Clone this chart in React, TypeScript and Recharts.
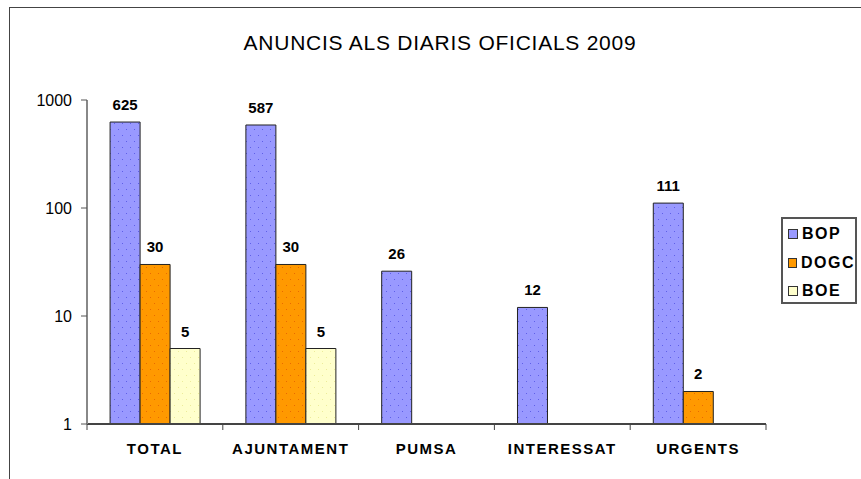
import React from 'react';
import { BarChart, Bar, XAxis, YAxis, Legend, LabelList } from 'recharts';

const title = 'ANUNCIS ALS DIARIS OFICIALS 2009';
const categories = ['TOTAL', 'AJUNTAMENT', 'PUMSA', 'INTERESSAT', 'URGENTS'];
const seriesNames = ['BOP', 'DOGC', 'BOE'];
const bopValues = [625, 587, 26, 12, 111];
const dogcValues = [30, 30, null, null, 2];
const boeValues = [5, 5, null, null, null];
const yTicks = [1, 10, 100, 1000];

const seriesValues: Record<string, (number | null)[]> = {
  BOP: bopValues,
  DOGC: dogcValues,
  BOE: boeValues,
};

const colors: Record<string, string> = { BOP: '#9999ff', DOGC: '#ff9900', BOE: '#ffffcc' };
const dotColors: Record<string, string> = { BOP: '#5f5fe8', DOGC: '#e86a00', BOE: '#ecec9a' };

const data = categories.map((name, i) => {
  const row: Record<string, any> = { name };
  seriesNames.forEach((s) => {
    row[s] = seriesValues[s][i];
  });
  return row;
});

const FONT = '"Liberation Sans", Arial, sans-serif';
const PLOT_LEFT = 87;
const PLOT_RIGHT = 766;
const BAND = (PLOT_RIGHT - PLOT_LEFT) / categories.length;

function CatTick(props: any) {
  const { x, y, payload, index } = props;
  return (
    <g>
      <line x1={x - BAND / 2} y1={y} x2={x - BAND / 2} y2={y + 6} stroke="#444" strokeWidth={1} />
      {index === categories.length - 1 && (
        <line x1={x + BAND / 2} y1={y} x2={x + BAND / 2} y2={y + 6} stroke="#444" strokeWidth={1} />
      )}
      <text
        x={x}
        y={y + 30}
        textAnchor="middle"
        fill="#000"
        style={{ fontFamily: FONT, fontSize: 15, fontWeight: 'bold', letterSpacing: 1.5 }}
      >
        {payload.value}
      </text>
    </g>
  );
}

function LegendBox(props: any) {
  const payload = [...(props.payload || [])].sort(
    (a: any, b: any) => seriesNames.indexOf(a.value) - seriesNames.indexOf(b.value)
  );
  return (
    <div
      style={{
        width: 76,
        height: 87,
        border: '2px solid #555',
        boxSizing: 'border-box',
        background: '#fff',
        paddingTop: 1,
        paddingLeft: 5,
      }}
    >
      {payload.map((p: any) => (
        <div
          key={p.value}
          style={{ display: 'flex', alignItems: 'center', height: 28.5 }}
        >
          <span
            style={{
              display: 'inline-block',
              width: 8,
              height: 8,
              background: colors[p.value],
              border: '1px solid #333',
              marginRight: 4,
            }}
          />
          <span
            style={{
              fontFamily: FONT,
              fontSize: 16,
              fontWeight: 'bold',
              letterSpacing: 1.5,
              color: '#000',
            }}
          >
            {p.value}
          </span>
        </div>
      ))}
    </div>
  );
}

export default function App() {
  return (
    <div style={{ position: 'relative', width: 861, height: 479, overflow: 'hidden', background: '#fff' }}>
      <style>{'body{margin:0;overflow:hidden}'}</style>
      <div
        style={{
          position: 'absolute',
          left: 9,
          top: 7,
          width: 900,
          height: 520,
          border: '1px solid #444',
          boxSizing: 'border-box',
        }}
      />
      <div
        style={{
          position: 'absolute',
          left: 0,
          top: 31,
          width: 880,
          textAlign: 'center',
          fontFamily: FONT,
          fontSize: 21,
          letterSpacing: 0.75,
          color: '#000',
          lineHeight: '24px',
        }}
      >
        {title}
      </div>
      <div style={{ position: 'absolute', left: 0, top: 0 }}>
        <BarChart
          width={861}
          height={479}
          data={data}
          margin={{ top: 100, right: 861 - PLOT_RIGHT, left: 0, bottom: 15 }}
          barCategoryGap="17%"
          barGap={0}
        >
          <defs>
            {seriesNames.map((s) => (
              <pattern key={s} id={`pat${s}`} width={8} height={12} patternUnits="userSpaceOnUse">
                <rect width={8} height={12} fill={colors[s]} />
                <rect x={2} y={3} width={1} height={1} fill={dotColors[s]} />
                <rect x={6} y={9} width={1} height={1} fill={dotColors[s]} />
              </pattern>
            ))}
          </defs>
          <XAxis
            dataKey="name"
            height={40}
            axisLine={{ stroke: '#444', strokeWidth: 2 }}
            tickLine={false}
            tickSize={0}
            tickMargin={0}
            tick={<CatTick />}
            interval={0}
          />
          <YAxis
            type="number"
            scale="log"
            domain={[1, 1000]}
            ticks={yTicks}
            allowDataOverflow
            width={PLOT_LEFT}
            axisLine={{ stroke: '#888', strokeWidth: 2 }}
            tickLine={{ stroke: '#555' }}
            tickSize={6}
            tickMargin={9}
            tick={{ fill: '#000', fontSize: 16, fontFamily: FONT }}
          />
          <Legend
            layout="vertical"
            align="center"
            verticalAlign="middle"
            content={<LegendBox />}
            wrapperStyle={{ position: 'absolute', left: 781, top: 217, width: 76 }}
          />
          {seriesNames.map((s) => (
            <Bar
              key={s}
              dataKey={s}
              name={s}
              fill={`url(#pat${s})`}
              stroke="#222"
              strokeWidth={1}
              isAnimationActive={false}
            >
              <LabelList
                dataKey={s}
                position="top"
                offset={12}
                fill="#000"
                style={{ fontFamily: FONT, fontSize: 15, fontWeight: 'bold' }}
              />
            </Bar>
          ))}
        </BarChart>
      </div>
    </div>
  );
}
